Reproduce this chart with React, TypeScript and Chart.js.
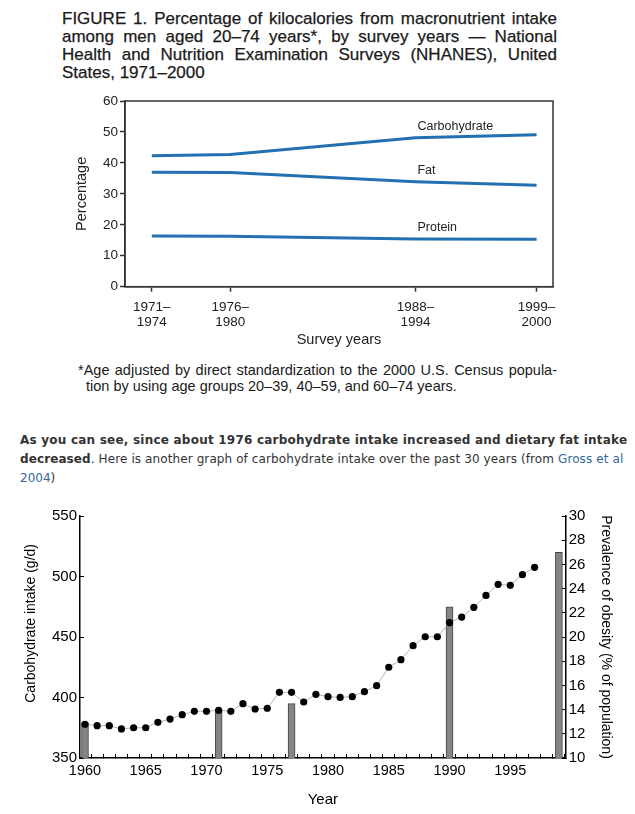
import React, { useEffect, useRef } from "react";
import { Chart, registerables } from "chart.js";

Chart.register(...registerables);

const ARIAL = "'Liberation Sans', Arial, Helvetica, sans-serif";
const VERDANA = "'DejaVu Sans', Verdana, sans-serif";

// ---------- Figure 1 data ----------
const surveyPeriods = ["1971–1974", "1976–1980", "1988–1994", "1999–2000"];
const surveyMidYears = [1972.5, 1978, 1991, 1999.5];
const carbohydratePct = [42.3, 42.7, 48.1, 49.1];
const fatPct = [37.0, 36.9, 33.9, 32.8];
const proteinPct = [16.4, 16.3, 15.4, 15.3];
const seriesNames = ["Carbohydrate", "Fat", "Protein"];
const percentTicks = [0, 10, 20, 30, 40, 50, 60];

// ---------- Figure 2 data ----------
const years = [
  1960, 1961, 1962, 1963, 1964, 1965, 1966, 1967, 1968, 1969,
  1970, 1971, 1972, 1973, 1974, 1975, 1976, 1977, 1978, 1979,
  1980, 1981, 1982, 1983, 1984, 1985, 1986, 1987, 1988, 1989,
  1990, 1991, 1992, 1993, 1994, 1995, 1996, 1997,
];
const carbIntake = [
  377.9, 376.7, 376.7, 374.0, 375.0, 375.0, 379.5, 382.2, 385.8, 388.6,
  388.6, 389.4, 388.6, 394.9, 390.5, 391.1, 404.3, 404.3, 396.3, 402.6,
  400.7, 400.1, 400.7, 404.8, 409.8, 425.0, 431.3, 442.8, 450.2, 450.2,
  461.8, 466.5, 474.5, 484.4, 493.5, 492.7, 501.5, 507.6,
];
const obesityYears = [1960, 1971, 1977, 1990, 1999];
const obesityPct = [12.9, 14.0, 14.5, 22.5, 27.0];
const yearTickLabels = [1960, 1965, 1970, 1975, 1980, 1985, 1990, 1995];
const carbTicks = [350, 400, 450, 500, 550];
const obesityTicks = [10, 12, 14, 16, 18, 20, 22, 24, 26, 28, 30];

const BLUE = "#2270b2";

function NutrientChart() {
  const ref = useRef<HTMLCanvasElement>(null);
  useEffect(() => {
    const H = 262;
    const mk = (name: string, values: number[]) => ({
      label: name,
      data: surveyMidYears.map((x, i) => ({ x, y: values[i] })),
      borderColor: BLUE,
      backgroundColor: BLUE,
      borderWidth: 3,
      pointRadius: 0,
      fill: false,
      tension: 0,
    });
    const framePlugin = {
      id: "frame",
      afterDraw(chart: any) {
        const { ctx, chartArea: a } = chart;
        ctx.save();
        ctx.strokeStyle = "#333";
        ctx.lineWidth = 1.5;
        ctx.strokeRect(a.left, a.top, a.right - a.left, a.bottom - a.top);
        ctx.restore();
      },
    };
    const labelPlugin = {
      id: "seriesLabels",
      afterDatasetsDraw(chart: any) {
        const { ctx } = chart;
        ctx.save();
        ctx.font = `12.5px ${ARIAL}`;
        ctx.fillStyle = "#222";
        ctx.textAlign = "left";
        ctx.textBaseline = "middle";
        chart.data.datasets.forEach((_: any, i: number) => {
          const pt = chart.getDatasetMeta(i).data[2];
          ctx.fillText(seriesNames[i], pt.x + 2, pt.y - 11);
        });
        ctx.restore();
      },
    };
    const chart = new Chart(ref.current as HTMLCanvasElement, {
      type: "line",
      data: {
        datasets: [
          mk(seriesNames[0], carbohydratePct),
          mk(seriesNames[1], fatPct),
          mk(seriesNames[2], proteinPct),
        ],
      },
      options: {
        animation: false,
        responsive: false,
        layout: { padding: { top: 11, right: 82, left: 0, bottom: 0 } },
        plugins: { legend: { display: false }, tooltip: { enabled: false } },
        scales: {
          x: {
            type: "linear",
            min: 1970.62,
            max: 2000.65,
            afterBuildTicks: (s: any) => {
              s.ticks = surveyMidYears.map((v) => ({ value: v }));
            },
            afterFit: (s: any) => {
              s.height = H - 196.7;
            },
            grid: { drawOnChartArea: false, tickLength: 5, color: "#333", tickWidth: 1.5 },
            border: { color: "#333", width: 1.5 },
            ticks: {
              autoSkip: false,
              maxRotation: 0,
              padding: 8,
              color: "#222",
              font: { family: ARIAL, size: 13.5, lineHeight: 1.12 },
              callback: (_v: any, i: number) => {
                const [a, b] = surveyPeriods[i].split("–");
                return [a + "–", b];
              },
            },
            title: {
              display: true,
              text: "Survey years",
              color: "#222",
              font: { family: ARIAL, size: 14.5 },
              padding: { top: 0, bottom: 3 },
            },
          },
          y: {
            min: 0,
            max: 60,
            afterBuildTicks: (s: any) => {
              s.ticks = percentTicks.map((v) => ({ value: v }));
            },
            afterFit: (s: any) => {
              s.width = 125;
            },
            grid: { drawOnChartArea: false, tickLength: 5, color: "#333", tickWidth: 1.5 },
            border: { color: "#333", width: 1.5 },
            ticks: { padding: 2, color: "#222", font: { family: ARIAL, size: 13.5 } },
            title: {
              display: true,
              text: "Percentage",
              color: "#222",
              font: { family: ARIAL, size: 14.5 },
              padding: { top: 73, bottom: 0 },
            },
          },
        },
      },
      plugins: [framePlugin, labelPlugin],
    } as any);
    return () => chart.destroy();
  }, []);
  return (
    <canvas
      ref={ref}
      width={635}
      height={262}
      style={{ position: "absolute", left: 0, top: 90, width: 635, height: 262 }}
    />
  );
}

function CarbObesityChart() {
  const ref = useRef<HTMLCanvasElement>(null);
  useEffect(() => {
    const chart = new Chart(ref.current as HTMLCanvasElement, {
      type: "bar",
      data: {
        datasets: [
          {
            type: "line",
            label: "Carbohydrate intake (g/d)",
            data: years.map((x, i) => ({ x, y: carbIntake[i] })),
            yAxisID: "y",
            borderColor: "#b4b4b4",
            borderWidth: 1,
            pointRadius: 3.6,
            pointBackgroundColor: "#000",
            pointBorderColor: "#000",
            pointBorderWidth: 0,
            tension: 0,
            order: 0,
          },
          {
            type: "bar",
            label: "Prevalence of obesity (% of population)",
            data: obesityYears.map((x, i) => ({ x, y: obesityPct[i] })),
            yAxisID: "y2",
            backgroundColor: "#858585",
            borderColor: "#444",
            borderWidth: 1,
            barThickness: 7,
            order: 1,
          },
        ],
      },
      options: {
        animation: false,
        responsive: false,
        layout: { padding: { top: 16, right: 0, left: 0, bottom: 0 } },
        plugins: { legend: { display: false }, tooltip: { enabled: false } },
        scales: {
          x: {
            type: "linear",
            position: "bottom",
            min: 1959.59,
            max: 1999.56,
            offset: false,
            afterBuildTicks: (s: any) => {
              const t: any[] = [];
              for (let v = 1960; v <= 1999; v++) t.push({ value: v });
              s.ticks = t;
            },
            afterFit: (s: any) => {
              s.height = 56;
            },
            grid: { drawOnChartArea: false, tickLength: -4, color: "#000", tickWidth: 1 },
            border: { color: "#000", width: 1.5 },
            ticks: {
              autoSkip: false,
              maxRotation: 0,
              padding: 8,
              color: "#000",
              font: { family: ARIAL, size: 14.5 },
              callback: (v: any) => (yearTickLabels.includes(v) ? String(v) : ""),
            },
            title: {
              display: true,
              text: "Year",
              color: "#000",
              font: { family: ARIAL, size: 15 },
              padding: { top: 0, bottom: 5 },
            },
          },
          y: {
            position: "left",
            min: 350,
            max: 550,
            afterBuildTicks: (s: any) => {
              s.ticks = carbTicks.map((v) => ({ value: v }));
            },
            afterFit: (s: any) => {
              s.width = 80;
            },
            grid: { drawOnChartArea: false, tickLength: -4, color: "#000", tickWidth: 1 },
            border: { color: "#000", width: 1.5 },
            ticks: { padding: 7, color: "#000", font: { family: ARIAL, size: 15 } },
            title: {
              display: true,
              text: "       Carbohydrate intake (g/d)",
              color: "#000",
              font: { family: ARIAL, size: 14 },
              padding: { top: 23, bottom: 0 },
            },
          },
          y2: {
            position: "right",
            min: 10,
            max: 30,
            afterBuildTicks: (s: any) => {
              s.ticks = obesityTicks.map((v) => ({ value: v }));
            },
            afterFit: (s: any) => {
              s.width = 69.3;
            },
            grid: { drawOnChartArea: false, tickLength: -4, color: "#000", tickWidth: 1 },
            border: { color: "#000", width: 1.5 },
            ticks: { padding: 7, color: "#000", font: { family: ARIAL, size: 15 } },
            title: {
              display: true,
              text: "Prevalence of obesity (% of population)",
              color: "#000",
              font: { family: ARIAL, size: 14 },
              padding: { top: 21, bottom: 0 },
            },
          },
        },
      },
    } as any);
    return () => chart.destroy();
  }, []);
  return (
    <canvas
      ref={ref}
      width={635}
      height={314}
      style={{ position: "absolute", left: 0, top: 500, width: 635, height: 314 }}
    />
  );
}

const justifyLine: React.CSSProperties = {
  textAlign: "justify",
  textAlignLast: "justify" as any,
  whiteSpace: "nowrap",
};

export default function App() {
  return (
    <div
      style={{
        position: "absolute",
        left: 0,
        top: 0,
        width: 635,
        height: 814,
        background: "#fff",
        overflow: "hidden",
      }}
    >
      <div
        style={{
          position: "absolute",
          left: 62,
          top: 10,
          width: 495,
          fontFamily: ARIAL,
          fontSize: 17,
          lineHeight: "18px",
          color: "#1a1a1a",
          WebkitTextStroke: "0.25px #1a1a1a",
        }}
      >
        <div style={justifyLine}>FIGURE 1. Percentage of kilocalories from macronutrient intake</div>
        <div style={justifyLine}>among men aged 20–74 years*, by survey years — National</div>
        <div style={justifyLine}>Health and Nutrition Examination Surveys (NHANES), United</div>
        <div style={{ whiteSpace: "nowrap" }}>States, 1971–2000</div>
      </div>

      <NutrientChart />

      <div
        style={{
          position: "absolute",
          left: 78,
          top: 362,
          width: 479,
          fontFamily: ARIAL,
          fontSize: 14.5,
          lineHeight: "16px",
          color: "#1a1a1a",
        }}
      >
        <div style={justifyLine}>*Age adjusted by direct standardization to the 2000 U.S. Census popula-</div>
        <div style={{ whiteSpace: "nowrap", paddingLeft: 8 }}>
          tion by using age groups 20–39, 40–59, and 60–74 years.
        </div>
      </div>

      <div
        style={{
          position: "absolute",
          left: 20,
          top: 431,
          width: 612,
          fontFamily: VERDANA,
          fontSize: 12,
          lineHeight: "19px",
          color: "#333",
        }}
      >
        <div style={{ whiteSpace: "nowrap", fontWeight: "bold", letterSpacing: "0.22px" }}>
          As you can see, since about 1976 carbohydrate intake increased and dietary fat intake
        </div>
        <div style={{ whiteSpace: "nowrap", letterSpacing: "0.1px" }}>
          <b>decreased</b>. Here is another graph of carbohydrate intake over the past 30 years (from{" "}
          <span style={{ color: "#336699" }}>Gross et al</span>
        </div>
        <div style={{ whiteSpace: "nowrap" }}>
          <span style={{ color: "#336699" }}>2004</span>)
        </div>
      </div>

      <CarbObesityChart />
    </div>
  );
}
